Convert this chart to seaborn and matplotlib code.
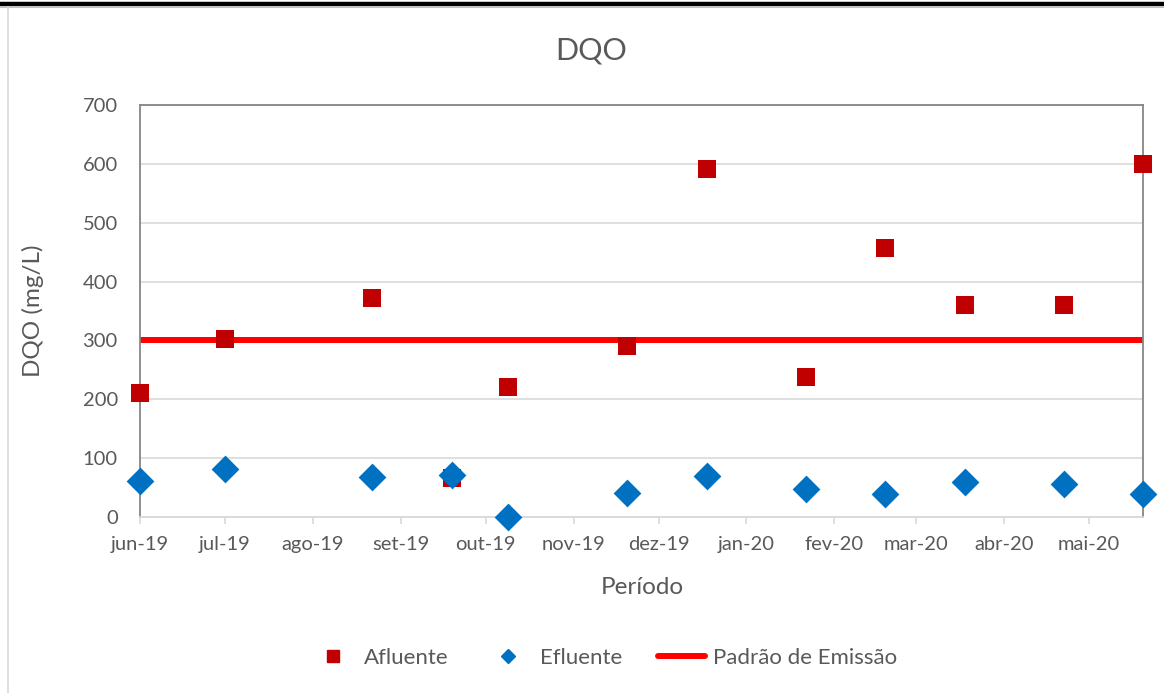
import matplotlib
matplotlib.use("Agg")
import matplotlib.pyplot as plt
from matplotlib.lines import Line2D
import pandas as pd
import seaborn as sns

# Datas de coleta
datas = ["2019-06-01", "2019-07-01", "2019-08-22", "2019-09-19", "2019-10-09",
         "2019-11-20", "2019-12-18", "2020-01-22", "2020-02-19", "2020-03-18",
         "2020-04-22", "2020-05-20"]
# DQO (mg/L)
afluente = [210, 302, 372, 66, 221, 291, 591, 238, 457, 361, 361, 599]
efluente = [62, 81, 68, 72, 0, 41, 70, 48, 39, 59, 56, 39]
padrao_emissao = 300

inicio_meses = ["2019-06-01", "2019-07-01", "2019-08-01", "2019-09-01", "2019-10-01",
                "2019-11-01", "2019-12-01", "2020-01-01", "2020-02-01", "2020-03-01",
                "2020-04-01", "2020-05-01"]
rotulos_meses = ["jun-19", "jul-19", "ago-19", "set-19", "out-19", "nov-19",
                 "dez-19", "jan-20", "fev-20", "mar-20", "abr-20", "mai-20"]

df = pd.DataFrame({"data": pd.to_datetime(datas),
                   "afluente": afluente,
                   "efluente": efluente})
limite = pd.DataFrame({"data": [df["data"].min(), df["data"].max()],
                       "valor": [padrao_emissao, padrao_emissao]})

sns.set_theme(style="white")
plt.rcParams["font.family"] = ["Lato", "DejaVu Sans"]

TXT = "#595959"
W, H = 1164, 693
fig = plt.figure(figsize=(W / 100, H / 100), dpi=100)
ax = fig.add_axes([140 / W, 1 - 517 / H, (1143 - 140) / W, (517 - 105) / H])

sns.lineplot(data=limite, x="data", y="valor", color="#FF0000", linewidth=4.3,
             ax=ax, zorder=2, legend=False)
sns.scatterplot(data=df, x="data", y="afluente", marker="s", s=185, color="#C00000",
                linewidth=0, ax=ax, zorder=3, legend=False, clip_on=False)
sns.scatterplot(data=df, x="data", y="efluente", marker="D", s=200, color="#0070C0",
                linewidth=0, ax=ax, zorder=4, legend=False, clip_on=False)

ax.set_xlim(df["data"].min(), df["data"].max())
ax.set_ylim(0, 700)
ax.set_yticks(range(0, 701, 100))
ax.set_xticks(pd.to_datetime(inicio_meses))
ax.set_xticklabels(rotulos_meses)
ax.yaxis.grid(True, color="#D9D9D9", linewidth=1.2, zorder=0)
ax.set_axisbelow(True)
ax.set_xlabel("")
ax.set_ylabel("")

for lado in ["left", "top", "right"]:
    ax.spines[lado].set_color("#868686")
    ax.spines[lado].set_linewidth(1.3)
ax.spines["bottom"].set_color("#D9D9D9")
ax.spines["bottom"].set_linewidth(1.3)

ax.tick_params(axis="x", direction="out", length=5, width=1.2, color="#D9D9D9",
               labelcolor=TXT, labelsize=14.5, pad=9, bottom=True)
ax.tick_params(axis="y", length=0, labelcolor=TXT, labelsize=14.5, pad=16, left=True)

fig.text(591 / W, 1 - 50 / H, "DQO", ha="center", va="center", fontsize=22, color=TXT)
fig.text(33 / W, 1 - 311 / H, "DQO (mg/L)", ha="center", va="center", rotation=90,
         fontsize=17.5, color=TXT)
fig.text(642 / W, 1 - 588 / H, "Período", ha="center", va="center", fontsize=17.5, color=TXT)

handles = [
    Line2D([], [], linestyle="none", marker="s", markersize=9, color="#C00000"),
    Line2D([], [], linestyle="none", marker="D", markersize=7, color="#0070C0"),
    Line2D([], [], color="#FF0000", linewidth=4.3, solid_capstyle="round"),
]
fig.legend(handles, ["Afluente", "Efluente", "Padrão de Emissão"],
           loc="center", bbox_to_anchor=(603 / W, 1 - 658 / H), ncol=3,
           frameon=False, fontsize=16, labelcolor=TXT, handlelength=2.15,
           handletextpad=0.35, columnspacing=1.6)

# Moldura do gráfico
fig.add_artist(Line2D([0, 1], [1 - 3.5 / H, 1 - 3.5 / H], color="black", linewidth=3.2,
                      transform=fig.transFigure))
fig.add_artist(Line2D([0, 1], [1 - 6.5 / H, 1 - 6.5 / H], color="#BFBFBF", linewidth=0.8,
                      transform=fig.transFigure))
fig.add_artist(Line2D([7.5 / W, 7.5 / W], [0, 1 - 6.5 / H], color="#D9D9D9", linewidth=1.2,
                      transform=fig.transFigure))

fig.savefig("out.png", dpi=100, facecolor="white")
